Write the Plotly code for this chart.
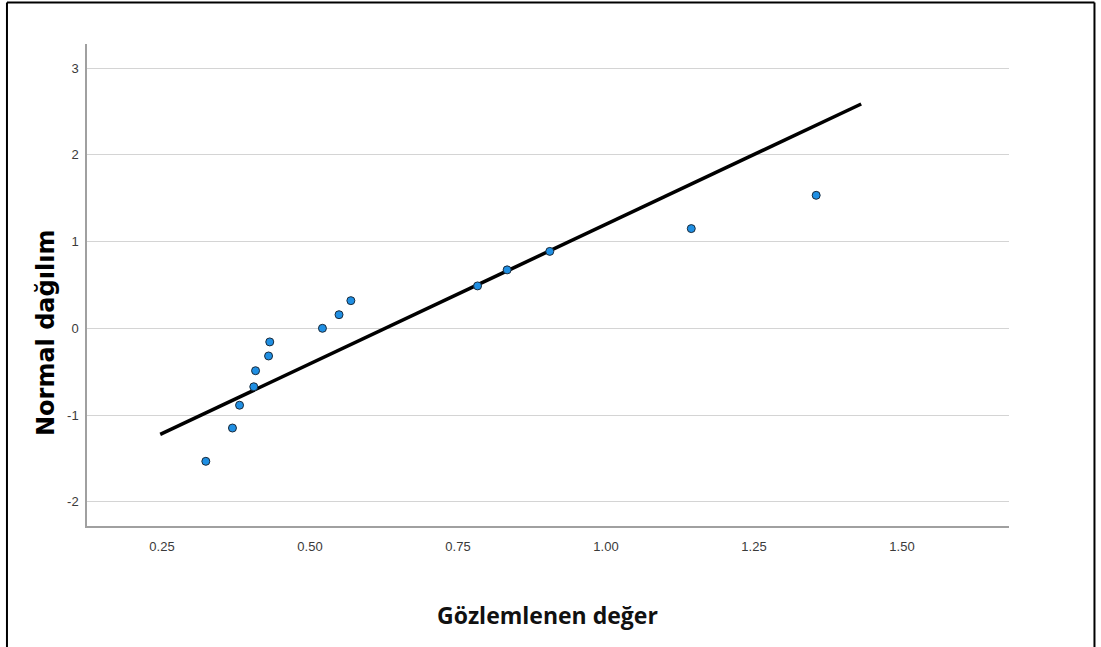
import plotly.graph_objects as go

# Observed values (x) and expected normal quantiles (y)
obs_x = [0.324, 0.369, 0.381, 0.405, 0.408, 0.430, 0.432, 0.521,
         0.549, 0.569, 0.783, 0.833, 0.905, 1.144, 1.355]
norm_y = [-1.534, -1.150, -0.887, -0.674, -0.489, -0.319, -0.157, 0.0,
          0.157, 0.319, 0.489, 0.674, 0.887, 1.150, 1.534]

# Reference line endpoints
line_x = [0.247, 1.431]
line_y = [-1.223, 2.587]

x_ticks = [0.25, 0.50, 0.75, 1.00, 1.25, 1.50]
x_tick_labels = ["0.25", "0.50", "0.75", "1.00", "1.25", "1.50"]
y_ticks = [-2, -1, 0, 1, 2, 3]
y_tick_labels = ["-2", "-1", "0", "1", "2", "3"]

x_title = "Gözlemlenen değer"
y_title = "Normal dağılım"

fig = go.Figure()
fig.add_trace(go.Scatter(
    x=line_x, y=line_y, mode="lines",
    line=dict(color="black", width=3.5), hoverinfo="skip", showlegend=False))
fig.add_trace(go.Scatter(
    x=obs_x, y=norm_y, mode="markers",
    marker=dict(size=8, color="#1f8fe3", line=dict(color="#1a2a3a", width=1)),
    showlegend=False))

tick_font = dict(family="Liberation Sans, Arial, sans-serif", size=13, color="#3a3a3a")

fig.update_layout(
    width=1101, height=647,
    margin=dict(l=87, r=92, t=44, b=121),
    paper_bgcolor="white", plot_bgcolor="white",
    font=dict(family="Liberation Sans, Arial, sans-serif", size=13, color="#3a3a3a"),
    xaxis=dict(range=[0.1233, 1.6807], tickvals=x_ticks, ticktext=x_tick_labels,
               showgrid=False, zeroline=False, showline=True, linecolor="#a0a0a0",
               linewidth=1.5, ticks="", ticklabelstandoff=8, tickfont=tick_font),
    yaxis=dict(range=[-2.28, 3.279], tickvals=y_ticks, ticktext=y_tick_labels,
               showgrid=True, gridcolor="#d4d4d4", gridwidth=1.2, zeroline=False,
               showline=True, linecolor="#a0a0a0", linewidth=1.5, ticks="",
               ticklabelstandoff=4, tickfont=tick_font),
    annotations=[
        dict(text="<b>" + y_title + "</b>", xref="paper", yref="paper",
             x=(46 - 87) / 922, y=(526 - 333) / 482, textangle=-90,
             showarrow=False, xanchor="center", yanchor="middle",
             font=dict(family="DejaVu Sans, sans-serif", size=24, color="black")),
        dict(text="<b>" + x_title + "</b>", xref="paper", yref="paper",
             x=(547 - 87) / 922, y=(526 - 615) / 482,
             showarrow=False, xanchor="center", yanchor="middle",
             font=dict(family="Open Sans, Noto Sans, sans-serif", size=23,
                       color="#111")),
    ],
    shapes=[
        dict(type="line", xref="paper", yref="paper", x0=-0.0868, x1=-0.0868,
             y0=-0.3, y1=1.0861, line=dict(color="black", width=2)),
        dict(type="line", xref="paper", yref="paper", x0=-0.0868, x1=1.0927,
             y0=1.0861, y1=1.0861, line=dict(color="black", width=2)),
        dict(type="line", xref="paper", yref="paper", x0=1.0927, x1=1.0927,
             y0=-0.3, y1=1.0861, line=dict(color="black", width=2)),
    ],
)

fig.write_html("out.html")
